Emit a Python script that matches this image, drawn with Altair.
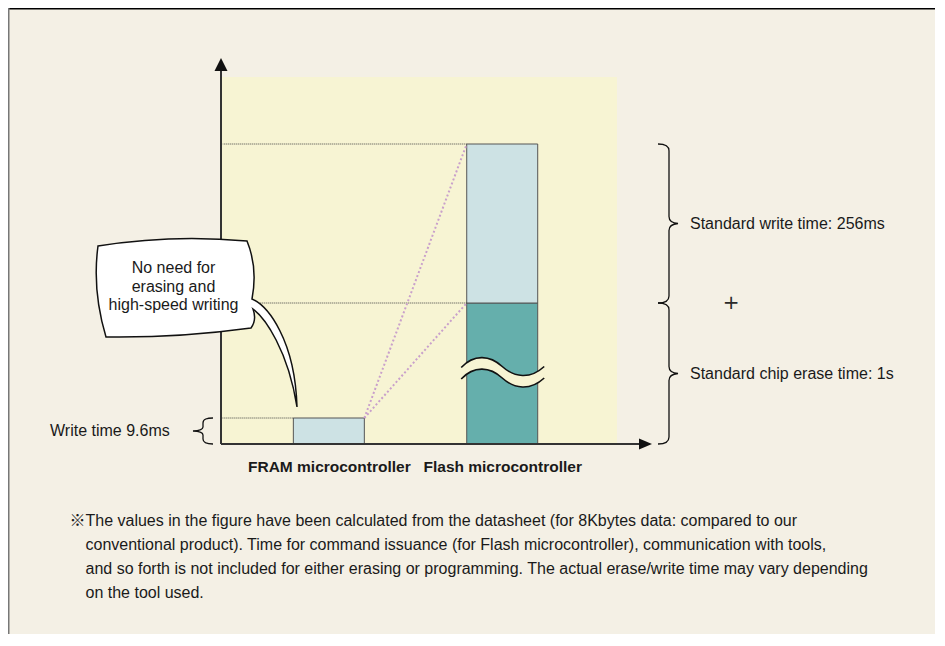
import altair as alt
import pandas as pd

# ---------------- data ----------------
CATEGORIES = ["FRAM microcontroller", "Flash microcontroller"]
CAT_INDEX = [1, 2]
FRAM_WRITE_MS = 9.6
FLASH_ERASE_MS = 1000
FLASH_WRITE_MS = 256

SEG_CATEGORY = ["FRAM microcontroller", "Flash microcontroller", "Flash microcontroller"]
SEG_PART = ["write", "erase", "write"]
SEG_START = [0, 0, FLASH_ERASE_MS]
SEG_END = [FRAM_WRITE_MS, FLASH_ERASE_MS, FLASH_ERASE_MS + FLASH_WRITE_MS]

BRACE_LABELS = ["Standard write time: 256ms", "Standard chip erase time: 1s"]
FRAM_LABEL = "Write time 9.6ms"
BUBBLE_LINES = ["No need for", "erasing and", "high-speed writing"]
NOTE_MARK = "※"
NOTE_LINES = [
    "The values in the figure have been calculated from the datasheet (for 8Kbytes data: compared to our",
    "conventional product). Time for command issuance (for Flash microcontroller), communication with tools,",
    "and so forth is not included for either erasing or programming. The actual erase/write time may vary depending",
    "on the tool used.",
]

# ---------------- style / layout ----------------
W, H = 396, 367
PAD = {"left": 213, "top": 69, "right": 318, "bottom": 190}
BEIGE = "#F4F0E5"
YELLOW = "#F7F4D3"
LIGHT = "#CDE2E4"
TEAL = "#65AFAC"
PINK = "#C9A0CB"
INK = "#1a1a1a"
FONT = "Liberation Sans"
FS = 16

BAR_HALF = 0.2047
X_DOMAIN = [0.378, 2.662]
TOTAL = FLASH_ERASE_MS + FLASH_WRITE_MS
# schematic (broken) value axis: piecewise mapping
Y_DOMAIN = [0, FRAM_WRITE_MS, FLASH_ERASE_MS / 2, FLASH_ERASE_MS, TOTAL, TOTAL + 108]
Y_RANGE = [367, 341, 296.5, 226, 67, 0]

xs = alt.Scale(domain=X_DOMAIN, nice=False, zero=False)
ys = alt.Scale(domain=Y_DOMAIN, range=Y_RANGE, nice=False, zero=False)

idx_of = dict(zip(CATEGORIES, CAT_INDEX))
seg = pd.DataFrame({"category": SEG_CATEGORY, "part": SEG_PART,
                    "start": SEG_START, "end": SEG_END})
seg["idx"] = seg["category"].map(idx_of)
seg["xl"] = seg["idx"] - BAR_HALF
seg["xr"] = seg["idx"] + BAR_HALF

label_expr = " : ".join(
    [f"datum.value == {i} ? '{c}'" for i, c in zip(CAT_INDEX, CATEGORIES)]) + " : ''"
xaxis = alt.Axis(values=CAT_INDEX, labelExpr=label_expr, ticks=False, domain=False,
                 grid=False, labelFontSize=15.5, labelFontWeight="bold", labelColor=INK,
                 labelFont=FONT, labelPadding=15, labelOverlap=False, title=None)


def X(field):
    return alt.X(field, scale=xs, axis=xaxis)


def Y(field):
    return alt.Y(field, scale=ys, axis=None)


def rel_path(cmds, ox=0.0, oy=0.0):
    out = []
    for letter, pts in cmds:
        coords = []
        for i in range(0, len(pts), 2):
            coords.append(f"{pts[i] - ox:.2f},{pts[i + 1] - oy:.2f}")
        out.append(letter + " " + " ".join(coords))
    return " ".join(out)


def right_brace(h):
    return (f"M -11,{-h} C -5,{-h} 0,{-h + 1.5} 0,{-h + 7} L 0,-7 C 0,-2.5 3,-0.5 9,0 "
            f"C 3,0.5 0,2.5 0,7 L 0,{h - 7} C 0,{h - 1.5} -5,{h} -11,{h}")


LEFT_BRACE = ("M 10,-13 C 4,-13 0,-12 0,-8 L 0,-4 C 0,-1.5 -3,-0.3 -10,0 "
              "C -3,0.3 0,1.5 0,4 L 0,8 C 0,12 4,13 10,13")

WAVE_UP = "M -41,-6 C -28,-20 -12,-18 0,-7 C 12,4 28,6 42,-7"
WAVE_LO = "M -41,5.5 C -28,-8.5 -12,-6.5 0,4.5 C 12,15.5 28,17.5 42,4.5"
WAVE_FILL = ("M -41,-6 C -28,-20 -12,-18 0,-7 C 12,4 28,6 42,-7 L 42,4.5 "
             "C 28,17.5 12,15.5 0,4.5 C -12,-6.5 -28,-8.5 -41,5.5 Z")

# bubble outline in page pixels, anchored to the FRAM bar's top-left corner
fram = seg.iloc[0]
ANCHOR = (221 + (fram["xl"] - X_DOMAIN[0]) / (X_DOMAIN[1] - X_DOMAIN[0]) * W, 77 + 341)
BUBBLE = rel_path([
    ("M", [98, 246]), ("Q", [172, 234, 247, 241]), ("Q", [258, 268, 252, 299]),
    ("C", [268, 306, 295, 340, 297, 407]), ("C", [288, 350, 265, 318, 253, 309]),
    ("Q", [257, 320, 251, 328]), ("Q", [178, 338, 106, 337]), ("Q", [92, 290, 98, 246]),
    ("Z", []),
], ANCHOR[0], ANCHOR[1])

one = pd.DataFrame({"k": [0]})

# ---------------- layers ----------------
bars = alt.Chart(seg).mark_rect(stroke="#555555", strokeWidth=1).encode(
    x=X("xl:Q"), x2="xr:Q", y=Y("start:Q"), y2="end:Q",
    color=alt.Color("part:N", scale=alt.Scale(domain=["write", "erase"], range=[LIGHT, TEAL]),
                    legend=None),
)

guides = alt.Chart(seg).mark_rule(color="#444444", strokeWidth=1, strokeDash=[1, 1]).encode(
    x=X("xl:Q"), x2=alt.value(1.5), y=Y("end:Q"),
)

pink_df = pd.DataFrame({
    "x": [fram["xr"]] * 2,
    "y": [FRAM_WRITE_MS] * 2,
    "x2": [seg.iloc[1]["xl"], seg.iloc[2]["xl"]],
    "y2": [seg.iloc[1]["end"], seg.iloc[2]["end"]],
})
pink = alt.Chart(pink_df).mark_rule(color=PINK, strokeWidth=2, strokeDash=[2, 2.3]).encode(
    x=X("x:Q"), x2="x2:Q", y=Y("y:Q"), y2="y2:Q",
)

wave_df = pd.DataFrame({"x": [idx_of[CATEGORIES[1]]], "y": [FLASH_ERASE_MS / 2]})
wave_fill = alt.Chart(wave_df).mark_point(shape=WAVE_FILL, size=4, filled=True, fill=YELLOW,
                                          opacity=1, strokeWidth=0).encode(
    x=X("x:Q"), y=Y("y:Q"))
wave_line = alt.Chart(wave_df).mark_point(shape=WAVE_UP + " " + WAVE_LO, size=4, filled=False,
                                          color="#111111", opacity=1, strokeWidth=1.6).encode(
    x=X("x:Q"), y=Y("y:Q"))

x_axis_line = alt.Chart(one).mark_rule(color="#333333", strokeWidth=2).encode(
    x=alt.value(0), x2=alt.value(420), y=alt.value(H))
y_axis_line = alt.Chart(one).mark_rule(color="#333333", strokeWidth=2).encode(
    x=alt.value(0), y=alt.value(H), y2=alt.value(-6))
y_arrow = alt.Chart(one).mark_point(shape="M 0,0 L 6.5,13 L -6.5,13 Z", size=4, filled=True,
                                    color="#111111", opacity=1).encode(
    x=alt.value(0), y=alt.value(-19))
x_arrow = alt.Chart(one).mark_point(shape="M 0,0 L -13,-5.5 L -13,5.5 Z", size=4, filled=True,
                                    color="#111111", opacity=1).encode(
    x=alt.value(431), y=alt.value(H))

brace_df = pd.DataFrame({"y": [FLASH_ERASE_MS + FLASH_WRITE_MS / 2, FLASH_ERASE_MS / 2],
                         "label": BRACE_LABELS})
brace_w = alt.Chart(brace_df.iloc[[0]]).mark_point(shape=right_brace(79.5), size=4, filled=False,
                                                   color="#111111", opacity=1,
                                                   strokeWidth=1.3).encode(
    x=alt.value(448), y=Y("y:Q"))
brace_e = alt.Chart(brace_df.iloc[[1]]).mark_point(shape=right_brace(70.5), size=4, filled=False,
                                                   color="#111111", opacity=1,
                                                   strokeWidth=1.3).encode(
    x=alt.value(448), y=Y("y:Q"))
brace_labels = alt.Chart(brace_df).mark_text(align="left", baseline="middle", fontSize=FS,
                                             color=INK, font=FONT).encode(
    x=alt.value(469), y=Y("y:Q"), text="label:N")

plus_df = pd.DataFrame({"y": [FLASH_ERASE_MS], "t": ["+"]})
plus = alt.Chart(plus_df).mark_text(align="center", baseline="middle", fontSize=20,
                                    color="#2a2a2a", font="DejaVu Sans").encode(
    x=alt.value(510), y=Y("y:Q"), text="t:N")

fram_df = pd.DataFrame({"y": [FRAM_WRITE_MS / 2], "label": [FRAM_LABEL]})
fram_brace = alt.Chart(fram_df).mark_point(shape=LEFT_BRACE, size=4, filled=False,
                                           color="#111111", opacity=1, strokeWidth=1.3).encode(
    x=alt.value(-18), y=Y("y:Q"))
fram_label = alt.Chart(fram_df).mark_text(align="left", baseline="middle", fontSize=FS,
                                          color=INK, font=FONT).encode(
    x=alt.value(-171), y=Y("y:Q"), text="label:N")

bub_df = pd.DataFrame({"x": [fram["xl"]], "y": [fram["end"]]})
bubble = alt.Chart(bub_df).mark_point(shape=BUBBLE, size=4, filled=True, fill="#FFFFFF",
                                      stroke="#111111", strokeWidth=1.5, opacity=1).encode(
    x=X("x:Q"), y=Y("y:Q"))
bubble_text = alt.Chart(bub_df).mark_text(text=BUBBLE_LINES, align="center", baseline="middle",
                                          lineHeight=18.5, fontSize=FS, color=INK, font=FONT,
                                          dx=173.5 - ANCHOR[0], dy=268 - ANCHOR[1]).encode(
    x=X("x:Q"), y=Y("y:Q"))

NOTE_Y = 520.5 - 77
note_mark = alt.Chart(one).mark_text(text=NOTE_MARK, align="right", baseline="middle",
                                     fontSize=FS, color=INK, font="Noto Sans CJK JP").encode(
    x=alt.value(85.5 - 221), y=alt.value(NOTE_Y))
note = alt.Chart(one).mark_text(text=NOTE_LINES, align="left", baseline="middle",
                                lineHeight=24, fontSize=FS, color=INK, font=FONT).encode(
    x=alt.value(85.5 - 221), y=alt.value(NOTE_Y))

frame_top = alt.Chart(one).mark_rule(color="#000000", strokeWidth=1.5).encode(
    x=alt.value(-PAD["left"]), x2=alt.value(W + PAD["right"]), y=alt.value(-PAD["top"] + 0.75))
frame_left = alt.Chart(one).mark_rule(color="#777777", strokeWidth=1.5).encode(
    x=alt.value(-PAD["left"] + 0.75), y=alt.value(-PAD["top"]), y2=alt.value(H + PAD["bottom"]))

chart = alt.layer(
    bars, guides, pink, wave_fill, wave_line, x_axis_line, y_axis_line, y_arrow, x_arrow,
    brace_w, brace_e, brace_labels, plus, fram_brace, fram_label, bubble, bubble_text,
    note_mark, note, frame_top, frame_left,
).properties(
    width=W, height=H, padding=PAD, autosize=alt.AutoSizeParams(type="none"),
    background=BEIGE,
).configure_view(fill=YELLOW, stroke=None)

chart.save("out.html", embed_options={"renderer": "svg", "actions": False})
